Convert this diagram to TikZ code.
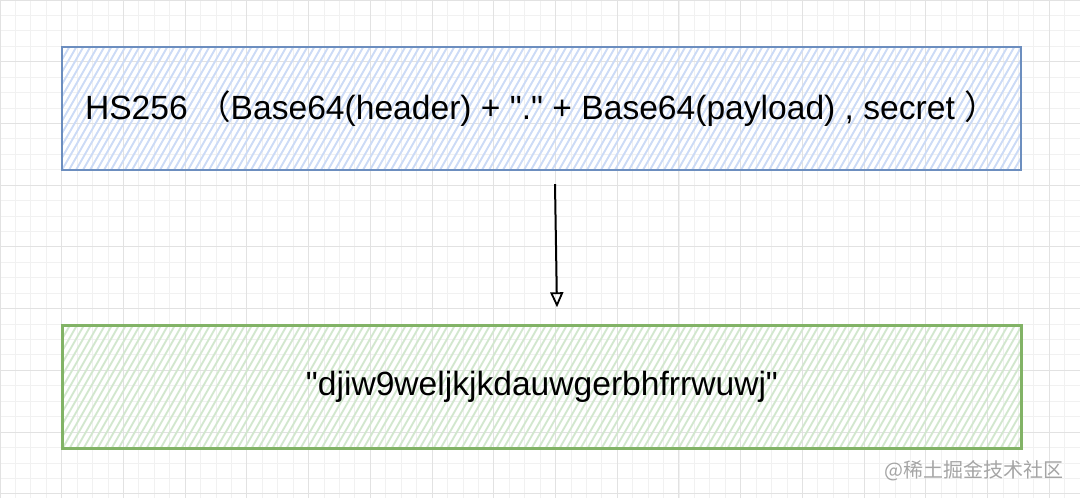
\documentclass[tikz,border=0pt]{standalone}
\usepackage{fontspec}
\newfontfamily\lat{Liberation Sans}
\newfontfamily\cjk{Noto Sans CJK SC}
\usepackage{xcolor}
\usepackage{tikz}
\usetikzlibrary{arrows.meta, positioning}
\definecolor{gridminor}{RGB}{241,241,241}
\definecolor{gridmajor}{RGB}{226,226,226}
\definecolor{sigblue}{RGB}{108,142,191}
\definecolor{sighatch}{RGB}{204,219,246}
\definecolor{hashgreen}{RGB}{130,179,102}
\definecolor{hashhatch}{RGB}{210,231,206}
\definecolor{markgray}{RGB}{165,165,165}

\begin{document}
\begin{tikzpicture}[x=1pt, y=-1pt,
    hatched/.style={path picture={
        \foreach \k in {0,...,160}
            \draw[#1, line width=1.9pt] ([xshift=\k*7pt-140pt]path picture bounding box.south west) -- ++(80,-140);
    }},
    box/.style={rectangle, line width=2.4pt, minimum width=959pt, minimum height=123pt, inner sep=0pt, font=\lat\fontsize{33.6}{40}\selectfont},
    sigbox/.style={box, draw=sigblue, hatched=sighatch},
    hashbox/.style={box, draw=hashgreen, hatched=hashhatch},
    arr/.style={-{Triangle[open, length=15pt, width=13pt, line width=1.8pt]}, line width=2pt, black}
]
\useasboundingbox (0,0) rectangle (1080,498);

% grid
\foreach \i in {0,...,70}
    \draw[gridminor, line width=0.8pt] (\i*15.43,0) -- (\i*15.43,498);
\foreach \j in {0,...,32}
    \draw[gridminor, line width=0.8pt] (0,\j*15.43) -- (1080,\j*15.43);
\foreach \i in {0,...,17}
    \draw[gridmajor, line width=0.9pt] (\i*61.72,0) -- (\i*61.72,498);
\foreach \j in {0,...,8}
    \draw[gridmajor, line width=0.9pt] (0,\j*61.72) -- (1080,\j*61.72);

\node[sigbox] (sig) at (541.5,108.5) {HS256 {\cjk （}Base64(header) + "." + Base64(payload) , secret {\cjk ）}};
\node[hashbox] (hash) at (542,387) {"djiw9weljkjkdauwgerbhfrrwuwj"};

\draw[arr] ([xshift=13.5pt, yshift=-13pt]sig.south) -- ([xshift=15pt, yshift=17pt]hash.north);

\node[anchor=east, inner sep=0pt, text=markgray, font=\cjk\fontsize{20}{24}\selectfont] (wmark) at (1064,471) {@稀土掘金技术社区};
\end{tikzpicture}
\end{document}
